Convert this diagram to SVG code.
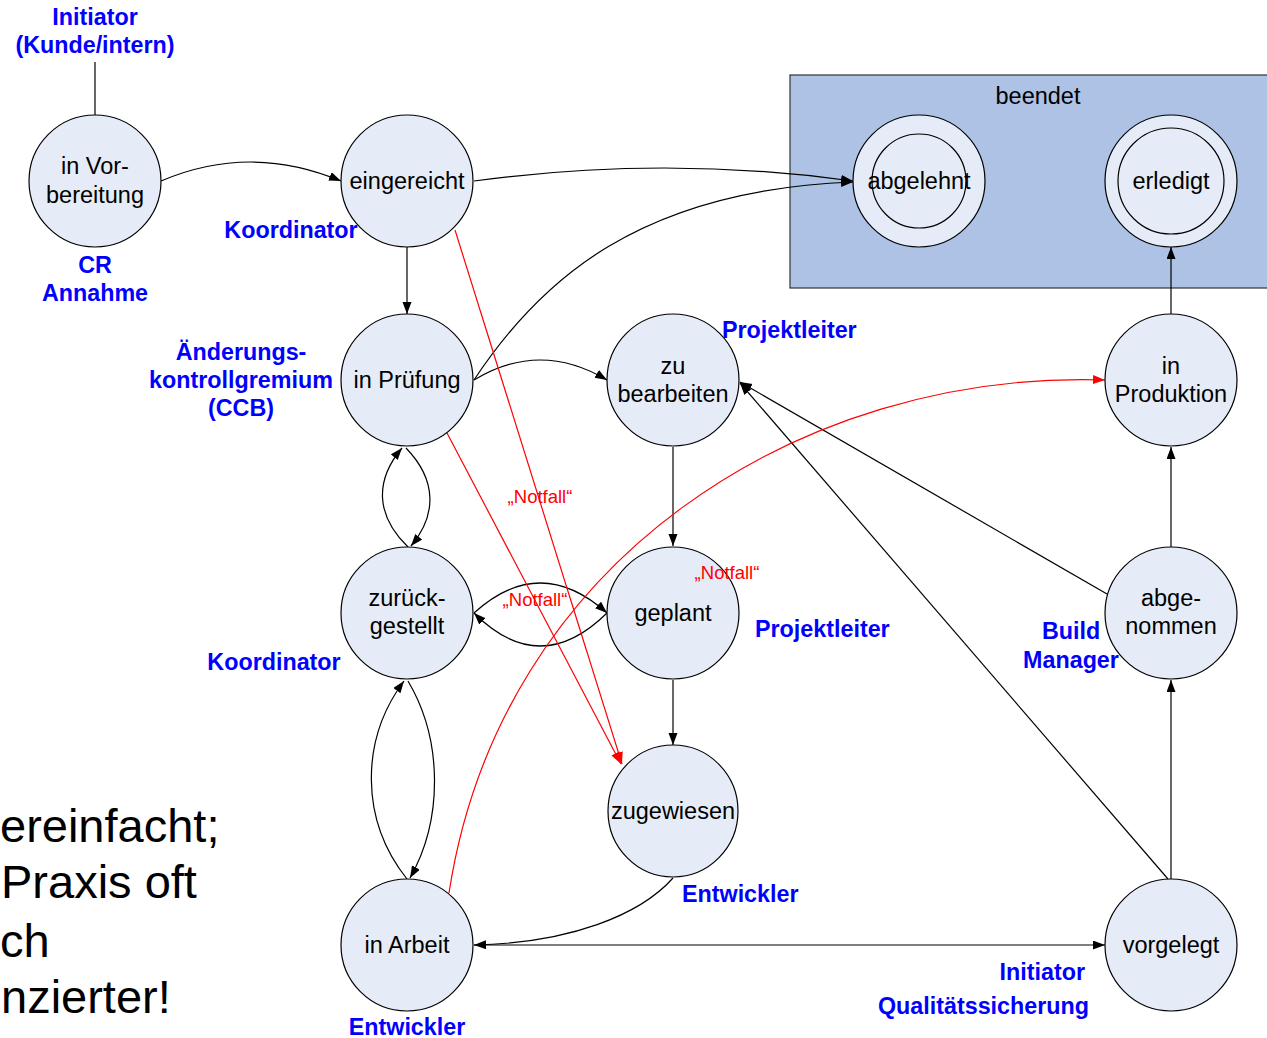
<svg xmlns="http://www.w3.org/2000/svg" width="1267" height="1038" viewBox="0 0 1267 1038">
<style>
.st{fill:#e6ecf7;stroke:#000;stroke-width:1.2}
.n{font-family:"Liberation Sans",Arial,sans-serif;font-size:23.5px;fill:#000;text-anchor:middle}
.r{font-family:"Liberation Sans",Arial,sans-serif;font-size:23.3px;font-weight:bold;fill:#0000ff;text-anchor:middle}
.nf{font-family:"Liberation Sans",Arial,sans-serif;font-size:18.5px;fill:#ff0000;text-anchor:middle}
.big{font-family:"Liberation Sans",Arial,sans-serif;font-size:47px;fill:#000}
.c{fill:none;stroke:#000;stroke-width:1.2}
.cr{fill:none;stroke:#ff0000;stroke-width:1.2}
</style>
<defs>
<marker id="a" markerWidth="13" markerHeight="10" refX="12" refY="4.5" orient="auto" markerUnits="userSpaceOnUse"><path d="M0,0 L12,4.5 L0,9 z" fill="#000"/></marker>
<marker id="ar" markerWidth="13" markerHeight="10" refX="12" refY="4.5" orient="auto" markerUnits="userSpaceOnUse"><path d="M0,0 L12,4.5 L0,9 z" fill="#ff0000"/></marker>
</defs>
<rect width="1267" height="1038" fill="#fff"/>
<g id="beendet">
<rect x="790" y="75" width="482" height="213" fill="#adc2e4" stroke="#333" stroke-width="1.2"/>
<text class="n" x="1038" y="104">beendet</text>
</g>
<g id="notes">
<text class="big" x="0" y="842">ereinfacht;</text>
<text class="big" x="1" y="898">Praxis oft</text>
<text class="big" x="0" y="957">ch</text>
<text class="big" x="1" y="1013">nzierter!</text>
</g>
<g id="connectors">
<path class="c" d="M95,62 L95,115"/>
<path class="c" d="M161,181 Q250,143 341,181" marker-end="url(#a)"/>
<path class="c" d="M474,181 Q665,155 853,181" marker-end="url(#a)"/>
<path class="c" d="M474,380 C540,280 640,190 853,182" marker-end="url(#a)"/>
<path class="c" d="M407,247 L407,314" marker-end="url(#a)"/>
<path class="c" d="M474,380 Q540,340 607,380" marker-end="url(#a)"/>
<path class="c" d="M408,547 C375,515 375,480 402,448" marker-end="url(#a)"/>
<path class="c" d="M406,448 C437,480 437,515 411,546" marker-end="url(#a)"/>
<path class="c" d="M474,613 Q540,553 607,613" marker-end="url(#a)"/>
<path class="c" d="M607,613 Q540,679 474,613" marker-end="url(#a)"/>
<path class="c" d="M407,879 C360,820 360,740 404,681" marker-end="url(#a)"/>
<path class="c" d="M408,681 C443,740 443,820 410,878" marker-end="url(#a)"/>
<path class="c" d="M673,447 L673,546" marker-end="url(#a)"/>
<path class="c" d="M673,680 L673,745" marker-end="url(#a)"/>
<path class="c" d="M673,878 C640,915 570,943 474,945" marker-end="url(#a)"/>
<path class="c" d="M474,945 L1105,945" marker-end="url(#a)"/>
<path class="c" d="M1171,879 L1171,680" marker-end="url(#a)"/>
<path class="c" d="M1171,547 L1171,447" marker-end="url(#a)"/>
<path class="c" d="M1171,314 L1171,247" marker-end="url(#a)"/>
<path class="c" d="M1107,594 L740,382" marker-end="url(#a)"/>
<path class="c" d="M1168,879 L740,383" marker-end="url(#a)"/>
<path class="cr" d="M455,230 L622,764" marker-end="url(#ar)"/>
<path class="cr" d="M447,433 L621,764" marker-end="url(#ar)"/>
<path class="cr" d="M449,893 C500,560 800,370 1105,380" marker-end="url(#ar)"/>
</g>
<g id="in-vorbereitung"><circle class="st" cx="95" cy="181" r="66"/><text class="n" x="95" y="174">in Vor-</text><text class="n" x="95" y="203">bereitung</text></g>
<g id="eingereicht"><circle class="st" cx="407" cy="181" r="66"/><text class="n" x="407" y="189">eingereicht</text></g>
<g id="in-pruefung"><circle class="st" cx="407" cy="380" r="66"/><text class="n" x="407" y="388">in Prüfung</text></g>
<g id="zurueckgestellt"><circle class="st" cx="407" cy="613" r="66"/><text class="n" x="407" y="606">zurück-</text><text class="n" x="407" y="634">gestellt</text></g>
<g id="in-arbeit"><circle class="st" cx="407" cy="945" r="66"/><text class="n" x="407" y="953">in Arbeit</text></g>
<g id="zu-bearbeiten"><circle class="st" cx="673" cy="380" r="66"/><text class="n" x="673" y="374">zu</text><text class="n" x="673" y="402">bearbeiten</text></g>
<g id="geplant"><circle class="st" cx="673" cy="613" r="66"/><text class="n" x="673" y="621">geplant</text></g>
<g id="zugewiesen"><ellipse class="st" cx="673" cy="811" rx="65" ry="66"/><text class="n" x="673" y="819">zugewiesen</text></g>
<g id="abgelehnt"><circle class="st" cx="919" cy="181" r="66"/><circle class="st" cx="919" cy="181" r="47"/><text class="n" x="919" y="189">abgelehnt</text></g>
<g id="erledigt"><circle class="st" cx="1171" cy="181" r="66"/><circle class="st" cx="1171" cy="181" r="53"/><text class="n" x="1171" y="189">erledigt</text></g>
<g id="in-produktion"><circle class="st" cx="1171" cy="380" r="66"/><text class="n" x="1171" y="374">in</text><text class="n" x="1171" y="402">Produktion</text></g>
<g id="abgenommen"><circle class="st" cx="1171" cy="613" r="66"/><text class="n" x="1171" y="606">abge-</text><text class="n" x="1171" y="634">nommen</text></g>
<g id="vorgelegt"><ellipse class="st" cx="1171" cy="945" rx="66" ry="66"/><text class="n" x="1171" y="953">vorgelegt</text></g>
<g id="notfall-labels">
<text class="nf" x="540" y="503">„Notfall“</text>
<text class="nf" x="727" y="579">„Notfall“</text>
<text class="nf" x="535" y="606">„Notfall“</text>
</g>
<g id="roles">
<text class="r" x="95" y="25">Initiator</text>
<text class="r" x="95" y="53">(Kunde/intern)</text>
<text class="r" x="95" y="273">CR</text>
<text class="r" x="95" y="301">Annahme</text>
<text class="r" x="291" y="238">Koordinator</text>
<text class="r" x="241" y="360">Änderungs-</text>
<text class="r" x="241" y="388">kontrollgremium</text>
<text class="r" x="241" y="416">(CCB)</text>
<text class="r" x="722" y="338" style="text-anchor:start">Projektleiter</text>
<text class="r" x="755" y="637" style="text-anchor:start">Projektleiter</text>
<text class="r" x="274" y="670">Koordinator</text>
<text class="r" x="1071" y="639">Build</text>
<text class="r" x="1071" y="668">Manager</text>
<text class="r" x="682" y="902" style="text-anchor:start">Entwickler</text>
<text class="r" x="407" y="1035">Entwickler</text>
<text class="r" x="1085" y="980" style="text-anchor:end">Initiator</text>
<text class="r" x="1089" y="1014" style="text-anchor:end">Qualitätssicherung</text>
</g>
</svg>
